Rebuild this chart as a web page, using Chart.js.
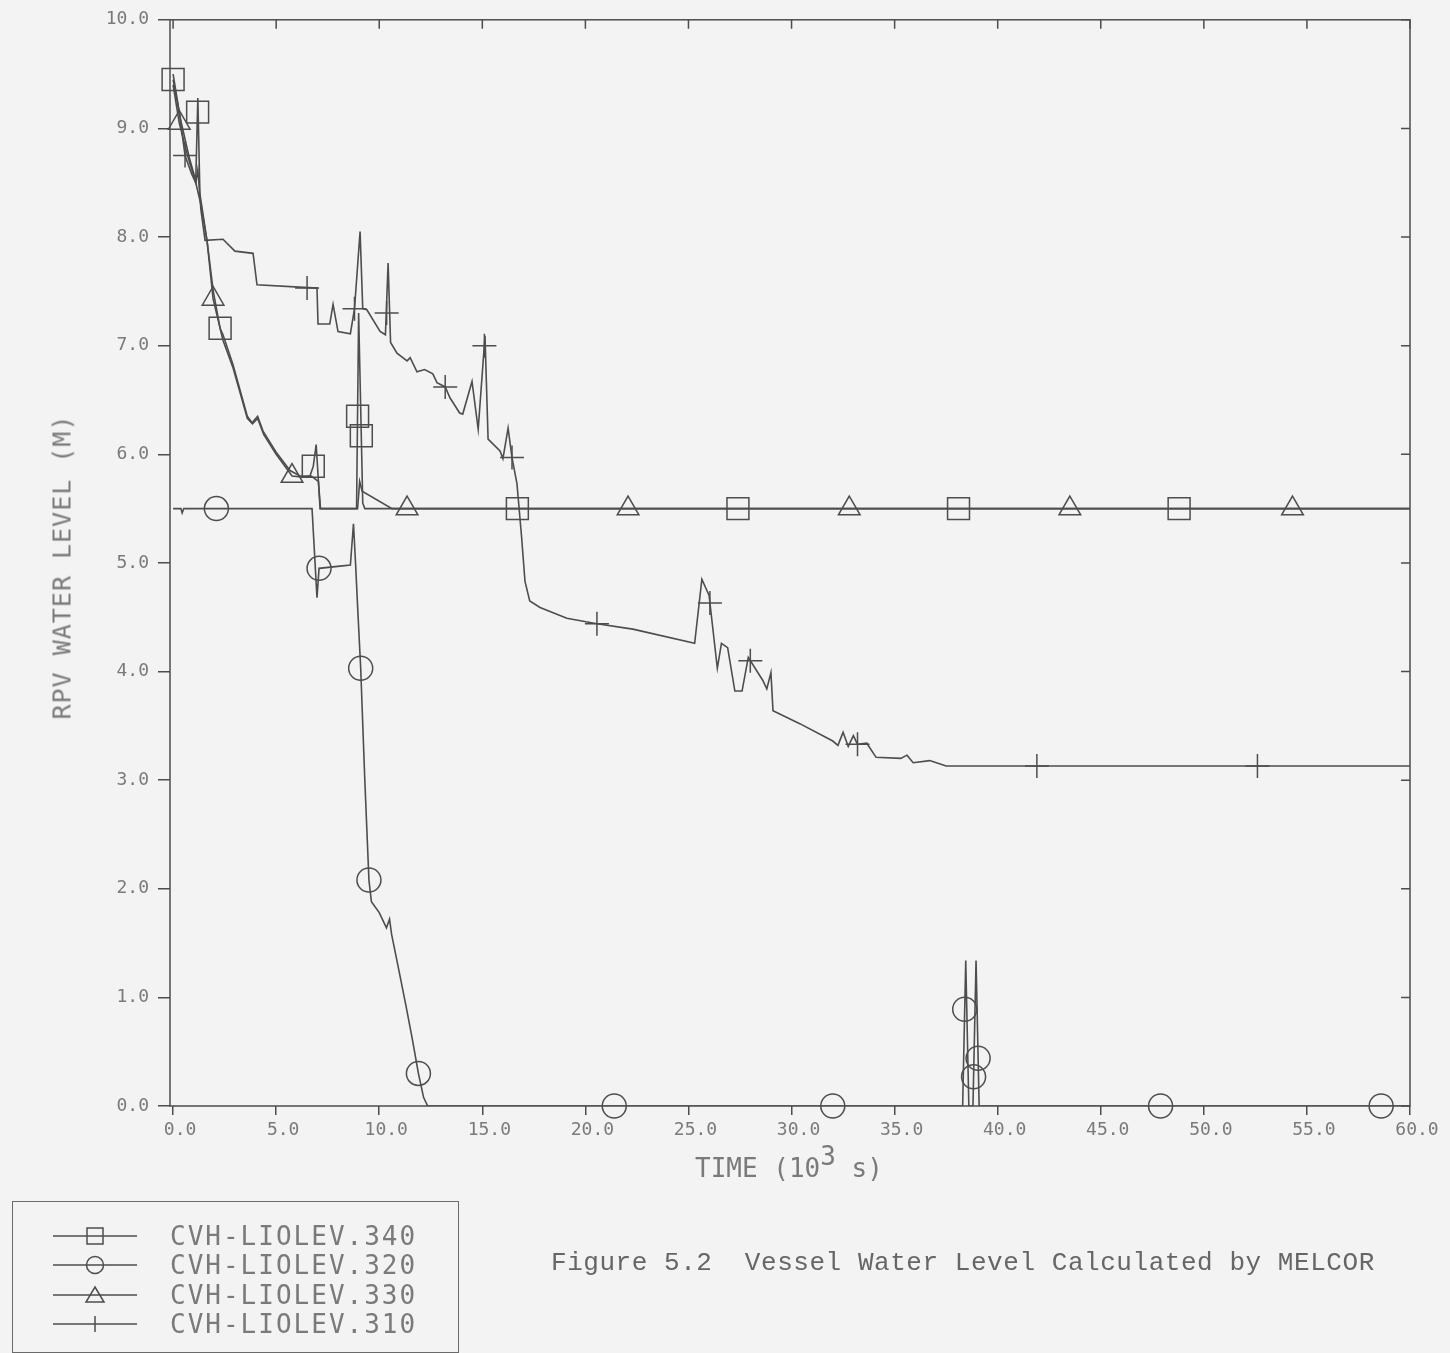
<!DOCTYPE html>
<html>
<head>
<meta charset="utf-8">
<title>Vessel Water Level Calculated by MELCOR</title>
<script src="https://cdn.jsdelivr.net/npm/chart.js@4.4.1/dist/chart.umd.min.js"></script>
<style>
  html, body { margin: 0; padding: 0; background: #f3f3f3; }
  #page { position: relative; width: 1450px; height: 1353px; overflow: hidden; }
  #chart { position: absolute; left: 0; top: 0; }
  .mono { font-family: 'DejaVu Sans Mono', monospace; color: #7a7a7a; white-space: pre; }
  #ytitle {
    position: absolute; left: 62px; top: 567px;
    transform: translate(-50%, -50%) rotate(-90deg);
    font-size: 25px; letter-spacing: 1px;
  }
  #xtitle { position: absolute; left: 695px; top: 1153px; font-size: 26px; }
  #xtitle sup { font-size: 26px; vertical-align: 12px; line-height: 0; }
  #legend {
    position: absolute; left: 12px; top: 1201px; width: 447px; height: 152px;
    border: 1.5px solid #6a6a6a; box-sizing: border-box;
  }
  .row { position: absolute; left: 0; width: 440px; height: 30px; }
  .row svg { position: absolute; left: 40px; top: 0; }
  .row span { position: absolute; left: 157px; top: 0; line-height: 30px; font-size: 26px; letter-spacing: 2px; }
  #caption {
    position: absolute; left: 551px; top: 1248px;
    font-family: 'Liberation Mono', monospace; font-size: 26px; letter-spacing: 0.55px;
    color: #666; white-space: pre;
  }
</style>
</head>
<body>
<div id="page">
  <canvas id="chart" width="1450" height="1353"></canvas>
  <div id="ytitle" class="mono">RPV WATER LEVEL (M)</div>
  <div id="xtitle" class="mono">TIME (10<sup>3</sup> s)</div>
  <div id="legend"></div>
  <div id="caption">Figure 5.2  Vessel Water Level Calculated by MELCOR</div>
</div>

<script>
// ── Axis ticks ────────────────────────────────────────────
const xTicks = [0, 5, 10, 15, 20, 25, 30, 35, 40, 45, 50, 55, 60];
const yTicks = [0, 1, 2, 3, 4, 5, 6, 7, 8, 9, 10];

// ── Water level curves: [time (10^3 s), level (m)] ────────
const lev340 = [
  [0, 9.45], [0.4, 9.05], [0.8, 8.72], [1.1, 8.52], [1.2, 9.28], [1.3, 8.4],
  [1.65, 7.96], [1.95, 7.5], [2.28, 7.16], [2.42, 7.1], [2.9, 6.83], [3.6, 6.35],
  [3.83, 6.29], [4.1, 6.35], [4.37, 6.21], [5.0, 6.02], [5.67, 5.85], [6.16, 5.8],
  [6.64, 5.8], [6.8, 5.89], [6.94, 6.09], [7.13, 5.5], [8.9, 5.5], [9.0, 7.3],
  [9.2, 5.55], [9.3, 5.5], [60, 5.5],
];
const lev320 = [
  [0, 5.5], [0.38, 5.5], [0.44, 5.46], [0.52, 5.5], [6.74, 5.5], [6.98, 4.68],
  [7.08, 4.95], [8.1, 4.97], [8.6, 4.98], [8.75, 5.36], [8.85, 5.0], [8.95, 4.6],
  [9.1, 4.03], [9.3, 3.0], [9.5, 2.08], [9.62, 1.88], [10.0, 1.78], [10.35, 1.64],
  [10.5, 1.72], [10.6, 1.58], [10.9, 1.3], [11.3, 0.92], [11.6, 0.62], [11.9, 0.3],
  [12.15, 0.08], [12.35, 0], [38.3, 0], [38.45, 1.34], [38.6, 0], [38.8, 0],
  [38.95, 1.34], [39.1, 0], [60, 0],
];
const lev330 = [
  [0, 9.4], [0.3, 9.05], [0.7, 8.75], [1.1, 8.5], [1.35, 8.3], [1.65, 7.96],
  [1.94, 7.43], [2.42, 7.05], [2.9, 6.8], [3.6, 6.33], [3.85, 6.28], [4.1, 6.33],
  [4.4, 6.18], [5.0, 6.0], [5.77, 5.8], [6.3, 5.79], [6.7, 5.8], [7.05, 5.75],
  [7.15, 5.5], [8.95, 5.5], [9.05, 5.75], [9.17, 5.66], [10.62, 5.5], [60, 5.5],
];
const lev310 = [
  [0, 9.5], [0.3, 9.15], [0.58, 8.75], [0.9, 8.58], [1.1, 8.5], [1.2, 8.62],
  [1.35, 8.25], [1.55, 7.97], [2.42, 7.98], [3.0, 7.87], [3.88, 7.85], [4.07, 7.56],
  [6.98, 7.53], [7.03, 7.2], [7.6, 7.2], [7.76, 7.38], [8.0, 7.13], [8.6, 7.11],
  [8.8, 7.34], [9.07, 8.05], [9.2, 7.34], [9.4, 7.33], [10.04, 7.13], [10.3, 7.1],
  [10.43, 7.76], [10.55, 7.03], [10.86, 6.93], [11.35, 6.86], [11.5, 6.89], [11.83, 6.76],
  [12.2, 6.78], [12.6, 6.74], [12.8, 6.66], [13.2, 6.62], [13.43, 6.52], [13.9, 6.38],
  [14.05, 6.37], [14.5, 6.67], [14.8, 6.23], [15.13, 7.09], [15.28, 6.14], [15.86, 6.03],
  [16.0, 5.96], [16.25, 6.24], [16.44, 5.97], [16.68, 5.73], [16.9, 5.25], [17.07, 4.83],
  [17.3, 4.65], [17.8, 4.59], [19.1, 4.49], [20.56, 4.44], [22.3, 4.39], [25.3, 4.26],
  [25.65, 4.85], [26.0, 4.7], [26.4, 4.03], [26.6, 4.26], [26.9, 4.22], [27.25, 3.82],
  [27.6, 3.82], [27.9, 4.13], [28.6, 3.92], [28.8, 3.84], [29.0, 3.99], [29.1, 3.64],
  [30.4, 3.52], [32.0, 3.36], [32.25, 3.32], [32.5, 3.44], [32.75, 3.31], [33.0, 3.41],
  [33.2, 3.33], [33.65, 3.34], [34.1, 3.21], [35.3, 3.2], [35.6, 3.23], [35.9, 3.16],
  [36.7, 3.18], [37.5, 3.13], [60, 3.13],
];

// ── Plot symbols placed along each curve ──────────────────
const mark340 = [
  [0, 9.45], [1.19, 9.15], [2.28, 7.16], [6.8, 5.89], [8.95, 6.35], [9.13, 6.17],
  [16.7, 5.5], [27.4, 5.5], [38.1, 5.5], [48.8, 5.5],
];
const mark320 = [
  [2.1, 5.5], [7.08, 4.95], [9.1, 4.03], [9.5, 2.08], [11.9, 0.3], [21.4, 0],
  [32.0, 0], [38.4, 0.89], [38.83, 0.27], [39.05, 0.44], [47.9, 0], [58.6, 0],
];
const mark330 = [
  [0.3, 9.05], [1.94, 7.43], [5.77, 5.8], [11.35, 5.5], [22.07, 5.5], [32.8, 5.5],
  [43.5, 5.5], [54.3, 5.5],
];
const mark310 = [
  [0.58, 8.75], [6.5, 7.53], [8.8, 7.34], [10.36, 7.3], [13.2, 6.62], [15.1, 7.0],
  [16.44, 5.97], [20.56, 4.44], [26.04, 4.63], [28.0, 4.1], [33.2, 3.33], [41.9, 3.13],
  [52.6, 3.13],
];

const INK = '#4d4d4d';

const SERIES = [
  { label: 'CVH-LIOLEV.340', line: lev340, marks: mark340, style: 'rect',     radius: 15.5 },
  { label: 'CVH-LIOLEV.320', line: lev320, marks: mark320, style: 'circle',   radius: 12 },
  { label: 'CVH-LIOLEV.330', line: lev330, marks: mark330, style: 'triangle', radius: 12.5 },
  { label: 'CVH-LIOLEV.310', line: lev310, marks: mark310, style: 'cross',    radius: 12 },
];

const pts = arr => arr.map(([x, y]) => ({ x, y }));

// ── Chart.js defaults ─────────────────────────────────────
Chart.defaults.font.family = "'DejaVu Sans Mono', monospace";
Chart.defaults.font.size   = 18;
Chart.defaults.color       = '#7a7a7a';

const datasets = [];
SERIES.forEach(s => {
  datasets.push({
    data: pts(s.line),
    showLine: true,
    borderColor: INK,
    borderWidth: 1.6,
    pointRadius: 0,
    tension: 0,
  });
  datasets.push({
    data: pts(s.marks),
    showLine: false,
    pointStyle: s.style,
    pointRadius: s.radius,
    pointBorderColor: INK,
    pointBorderWidth: 1.5,
    pointBackgroundColor: 'rgba(0,0,0,0)',
    clip: false,
  });
});

// Box round the plot, with inward ticks on the top and right edges
const framePlugin = {
  id: 'frame',
  afterDraw(chart) {
    const { ctx, chartArea: a, scales: { x, y } } = chart;
    ctx.save();
    ctx.strokeStyle = INK;
    ctx.lineWidth = 1.5;
    ctx.strokeRect(a.left, a.top, a.right - a.left, a.bottom - a.top);
    ctx.beginPath();
    xTicks.forEach(v => {
      const px = x.getPixelForValue(v);
      ctx.moveTo(px, a.top);
      ctx.lineTo(px, a.top + 9);
    });
    yTicks.forEach(v => {
      const py = y.getPixelForValue(v);
      ctx.moveTo(a.right, py);
      ctx.lineTo(a.right - 9, py);
    });
    ctx.stroke();
    ctx.restore();
  },
};

new Chart(document.getElementById('chart'), {
  type: 'scatter',
  data: { datasets },
  plugins: [framePlugin],
  options: {
    responsive: false,
    animation: false,
    devicePixelRatio: 1,
    layout: { padding: { left: 0, top: 17, right: 40, bottom: 207 } },
    plugins: { legend: { display: false }, tooltip: { enabled: false } },
    scales: {
      x: {
        type: 'linear',
        min: -0.15,
        max: 60,
        afterBuildTicks: sc => { sc.ticks = xTicks.map(v => ({ value: v })); },
        afterFit: sc => { sc.height = 40; },
        border: { display: false },
        grid: { drawOnChartArea: false, drawTicks: true, tickLength: 9, color: INK, lineWidth: 1.5 },
        ticks: { padding: 5, labelOffset: 7, maxRotation: 0, autoSkip: false, callback: v => v.toFixed(1) },
      },
      y: {
        type: 'linear',
        min: 0,
        max: 10,
        afterBuildTicks: sc => { sc.ticks = yTicks.map(v => ({ value: v })); },
        afterFit: sc => { sc.width = 170; },
        border: { display: false },
        grid: { drawOnChartArea: false, drawTicks: true, tickLength: 12, color: INK, lineWidth: 1.5 },
        ticks: { padding: 9, autoSkip: false, callback: v => v.toFixed(1) },
      },
    },
  },
});

// ── Legend box ────────────────────────────────────────────
function symbolSvg(style) {
  const c = 'stroke="' + INK + '" stroke-width="1.5" fill="none"';
  let mark = '';
  if (style === 'rect')     mark = `<rect x="34" y="7" width="16" height="16" ${c}/>`;
  if (style === 'circle')   mark = `<circle cx="42" cy="15" r="8.5" ${c}/>`;
  if (style === 'triangle') mark = `<polygon points="42,7 51,22 33,22" ${c}/>`;
  if (style === 'cross')    mark = `<line x1="42" y1="7" x2="42" y2="23" ${c}/>`;
  return `<svg width="84" height="30"><line x1="0" y1="15" x2="84" y2="15" ${c}/>${mark}</svg>`;
}

const legend = document.getElementById('legend');
SERIES.forEach((s, i) => {
  const row = document.createElement('div');
  row.className = 'row';
  row.style.top = (19 + i * 29.3) + 'px';
  row.innerHTML = symbolSvg(s.style) + `<span class="mono">${s.label}</span>`;
  legend.appendChild(row);
});
</script>
</body>
</html>
